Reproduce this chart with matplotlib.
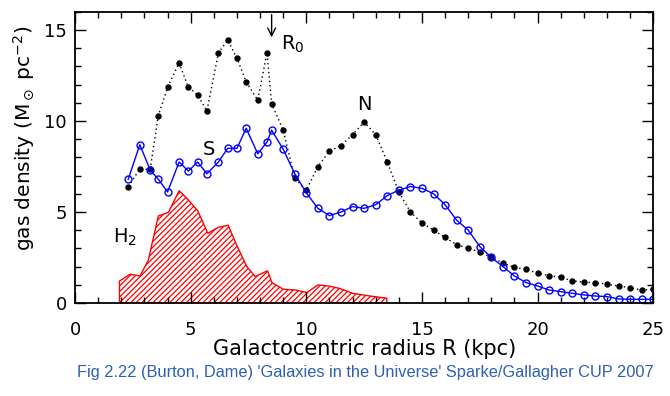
import numpy as np
import matplotlib.pyplot as plt
from matplotlib.ticker import MultipleLocator

plt.rcParams['font.family'] = ['DejaVu Sans']
plt.rcParams['hatch.color'] = 'red'
plt.rcParams['hatch.linewidth'] = 0.9

# N: northern hemisphere HI
r_n = [2.3, 2.8, 3.25, 3.6, 4.0, 4.5, 4.9, 5.3, 5.7, 6.2, 6.6, 7.0, 7.4, 7.9, 8.3, 8.5,
       9.0, 9.5, 10.0, 10.5, 11.0, 11.5, 12.0, 12.5, 13.0, 13.5, 14.0, 14.5, 15.0, 15.5,
       16.0, 16.5, 17.0, 17.5, 18.0, 18.5, 19.0, 19.5, 20.0, 20.5, 21.0, 21.5, 22.0, 22.5,
       23.0, 23.5, 24.0, 24.5, 25.0]
sig_n = [6.4, 7.35, 7.35, 10.3, 11.85, 13.2, 11.85, 11.45, 10.55, 13.75, 14.45, 13.45, 12.15,
         11.15, 13.75, 10.95, 9.5, 6.85, 6.2, 7.5, 8.35, 8.65, 9.25, 9.95, 9.25, 7.75, 6.1,
         5.0, 4.4, 4.0, 3.6, 3.2, 3.0, 2.8, 2.5, 2.2, 1.95, 1.85, 1.63, 1.5, 1.4, 1.22, 1.14,
         1.12, 1.03, 0.93, 0.84, 0.71, 0.75]

# S: southern hemisphere HI
r_s = r_n
sig_s = [6.8, 8.7, 7.3, 6.8, 6.1, 7.75, 7.25, 7.75, 7.1, 7.75, 8.5, 8.5, 9.6, 8.2, 8.85, 9.5,
         8.45, 7.1, 6.05, 5.2, 4.8, 5.0, 5.3, 5.2, 5.4, 5.9, 6.2, 6.4, 6.3, 6.0, 5.4, 4.55,
         4.0, 3.1, 2.5, 2.0, 1.48, 1.12, 0.93, 0.71, 0.62, 0.53, 0.44, 0.38, 0.35, 0.22, 0.2,
         0.2, 0.2]

# H2
r_h2 = [1.92, 1.92, 2.38, 2.81, 3.17, 3.6, 4.04, 4.5, 4.9, 5.31, 5.74, 6.2, 6.62, 7.02, 7.43,
        7.79, 8.32, 8.51, 9.01, 9.53, 10.02, 10.5, 10.98, 11.46, 12.0, 12.76, 13.48, 13.48]
sig_h2 = [0.0, 1.2, 1.58, 1.48, 2.36, 4.78, 4.98, 6.17, 5.66, 5.05, 3.83, 4.16, 4.27, 3.09,
          1.99, 1.45, 1.77, 1.12, 0.75, 0.71, 0.57, 0.99, 0.93, 0.79, 0.53, 0.38, 0.26, 0.0]

fig = plt.figure(figsize=(6.7, 3.96), dpi=100)
ax = fig.add_axes([0.112, 0.235, 0.863, 0.735])

ax.fill(r_h2, sig_h2, facecolor='white', edgecolor='red', hatch='//////', linewidth=1.0)

ax.plot(r_n, sig_n, color='black', linestyle=(0, (1, 2.2)), linewidth=1.0,
        marker='o', markersize=4.6, markerfacecolor='black', markeredgewidth=0)
ax.plot(r_s, sig_s, color='#0000ff', linewidth=1.0,
        marker='o', markersize=5, markerfacecolor='none', markeredgewidth=1.0)

# labels on the curves
ax.annotate('', xy=(8.5, 14.45), xytext=(8.5, 16),
            arrowprops=dict(arrowstyle='->', color='black', lw=1.0, mutation_scale=14))
ax.text(8.9, 14.2, r'R$_0$', fontsize=14, va='center', ha='left')
ax.text(12.5, 10.9, 'N', fontsize=14, va='center', ha='center')
ax.text(5.8, 8.45, 'S', fontsize=14, va='center', ha='center')
ax.text(1.65, 3.6, r'H$_2$', fontsize=14, va='center', ha='left')

ax.set_xlim(0, 25)
ax.set_ylim(0, 16)
ax.xaxis.set_major_locator(MultipleLocator(5))
ax.xaxis.set_minor_locator(MultipleLocator(1))
ax.yaxis.set_major_locator(MultipleLocator(5))
ax.yaxis.set_minor_locator(MultipleLocator(1))
ax.tick_params(which='both', direction='in', top=True, right=True, labelsize=13, width=1.0)
ax.tick_params(which='major', length=8, pad=6)
ax.tick_params(which='minor', length=4.5)
ax.tick_params(axis='x', which='major', pad=13)
for s in ax.spines.values():
    s.set_linewidth(1.3)

ax.set_xlabel('Galactocentric radius R (kpc)', fontsize=15, labelpad=0)
ax.set_ylabel(r'gas density (M$_\odot$ pc$^{-2}$)', fontsize=14.5)
ax.yaxis.set_label_coords(-0.066, 0.567)

fig.text(0.545, 0.06, "Fig 2.22 (Burton, Dame) 'Galaxies in the Universe' Sparke/Gallagher CUP 2007",
         family='Liberation Sans', fontsize=11.8, color='#2d5fb5', ha='center', va='center')

fig.savefig('out.png', dpi=100, facecolor='white')
